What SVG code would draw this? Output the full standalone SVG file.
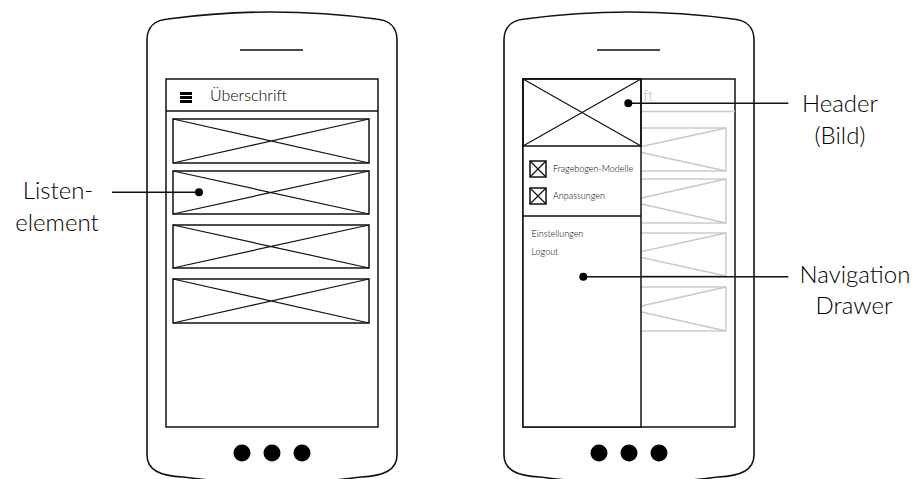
<svg xmlns="http://www.w3.org/2000/svg" width="918" height="479" viewBox="0 0 918 479">
  <style>
    .frame { fill: #fff; stroke: #111; stroke-width: 1.6; }
    .screen { fill: #fff; stroke: #111; stroke-width: 1.5; }
    .ln { fill: none; stroke: #111; stroke-width: 1.5; }
    .xl { fill: none; stroke: #111; stroke-width: 1.2; }
    .gray { fill: none; stroke: #c8c8c8; stroke-width: 1.4; }
    .dot { fill: #000; }
    .t { font-family: "Lato", "Liberation Sans", sans-serif; font-weight: 300; fill: #000; }
    .lbl { font-size: 24px; text-anchor: middle; }
    .small { font-size: 9px; }
  </style>
  <defs>
    <path id="phone" d="M147,455 L147,40 C147,27 155,20 168,19 Q272,5 376,19 C389,20 397,27 397,40 L397,455 C397,470 384,476 361,477 Q272,489 183,477 C160,476 147,470 147,455 Z"/>
  </defs>

  <!-- list screen -->
  <g id="phone-list">
    <use href="#phone" class="frame"/>
    <line class="ln" x1="240" y1="50" x2="303" y2="50"/>
    <rect class="screen" x="166" y="79" width="212" height="348"/>
    <line class="ln" x1="166" y1="111" x2="378" y2="111"/>
    <g stroke="#000" stroke-width="3">
      <line x1="180" y1="93.5" x2="192" y2="93.5"/>
      <line x1="180" y1="97.5" x2="192" y2="97.5"/>
      <line x1="180" y1="101.5" x2="192" y2="101.5"/>
    </g>
    <text class="t" x="210" y="101" font-size="16">Überschrift</text>
    <circle class="dot" cx="242" cy="453" r="8.5"/>
    <circle class="dot" cx="272" cy="453" r="8.5"/>
    <circle class="dot" cx="302" cy="453" r="8.5"/>
  </g>

  <g id="list-item-1">
    <rect class="ln" x="173" y="119" width="196" height="44"/>
    <path class="xl" d="M173,119 L369,163 M173,163 L369,119"/>
  </g>
  <g id="list-item-2">
    <rect class="ln" x="173" y="171" width="196" height="43"/>
    <path class="xl" d="M173,171 L369,214 M173,214 L369,171"/>
  </g>
  <g id="list-item-3">
    <rect class="ln" x="173" y="225" width="196" height="43"/>
    <path class="xl" d="M173,225 L369,268 M173,268 L369,225"/>
  </g>
  <g id="list-item-4">
    <rect class="ln" x="173" y="279" width="196" height="44"/>
    <path class="xl" d="M173,279 L369,323 M173,323 L369,279"/>
  </g>

  <!-- drawer screen -->
  <g id="phone-drawer">
    <use href="#phone" class="frame" transform="translate(357,0)"/>
    <line class="ln" x1="597" y1="50" x2="660" y2="50"/>
    <rect class="screen" x="523" y="79" width="212" height="348"/>
    <!-- dimmed page content behind the drawer -->
    <g class="gray">
      <line x1="641" y1="111.5" x2="735" y2="111.5"/>
      <rect x="530" y="128" width="196" height="43"/>
      <path d="M530,128 L726,171 M530,171 L726,128"/>
      <rect x="530" y="179" width="196" height="44"/>
      <path d="M530,179 L726,223 M530,223 L726,179"/>
      <rect x="530" y="233" width="196" height="43"/>
      <path d="M530,233 L726,276 M530,276 L726,233"/>
      <rect x="530" y="287" width="196" height="44"/>
      <path d="M530,287 L726,331 M530,331 L726,287"/>
    </g>
    <text x="643" y="101" font-size="16" font-family="Lato, 'Liberation Sans', sans-serif" font-weight="300" fill="#c4c4c4">ft</text>
    <circle class="dot" cx="599" cy="453" r="8.5"/>
    <circle class="dot" cx="629" cy="453" r="8.5"/>
    <circle class="dot" cx="659" cy="453" r="8.5"/>
  </g>

  <g id="drawer">
    <rect class="screen" x="523" y="79" width="118" height="348"/>
    <line class="ln" x1="523" y1="216" x2="641" y2="216"/>
    <text class="t small" x="531.5" y="236.5">Einstellungen</text>
    <text class="t small" x="531.5" y="254.5">Logout</text>
  </g>

  <g id="drawer-header">
    <rect class="ln" x="523" y="79" width="118" height="67" stroke-width="2"/>
    <path class="xl" d="M523,79 L641,146 M523,146 L641,79"/>
  </g>

  <g id="drawer-item-1">
    <rect class="ln" x="530" y="161" width="16" height="16"/>
    <path class="xl" d="M530,161 L546,177 M530,177 L546,161"/>
    <text class="t small" x="553" y="171.5">Fragebogen-Modelle</text>
  </g>
  <g id="drawer-item-2">
    <rect class="ln" x="530" y="188" width="16" height="16"/>
    <path class="xl" d="M530,188 L546,204 M530,204 L546,188"/>
    <text class="t small" x="553" y="198.5">Anpassungen</text>
  </g>

  <!-- callout labels -->
  <g id="label-list-element">
    <text class="t lbl" x="58" y="199">Listen-</text>
    <text class="t lbl" x="57" y="231">element</text>
  </g>
  <g id="label-header">
    <text class="t lbl" x="840" y="112">Header</text>
    <text class="t lbl" x="840" y="143.5">(Bild)</text>
  </g>
  <g id="label-drawer">
    <text class="t lbl" x="855" y="282.5">Navigation</text>
    <text class="t lbl" x="854" y="313.5">Drawer</text>
  </g>

  <!-- callout connectors -->
  <g id="connectors">
    <line class="ln" x1="112" y1="192.3" x2="199" y2="192.3"/>
    <circle class="dot" cx="199" cy="192.3" r="4"/>
    <line class="ln" x1="628.3" y1="103.3" x2="788.3" y2="103.3"/>
    <circle class="dot" cx="628.3" cy="103.3" r="4"/>
    <line class="ln" x1="583.3" y1="276.7" x2="788.3" y2="276.7"/>
    <circle class="dot" cx="583.3" cy="276.7" r="4"/>
  </g>
</svg>
